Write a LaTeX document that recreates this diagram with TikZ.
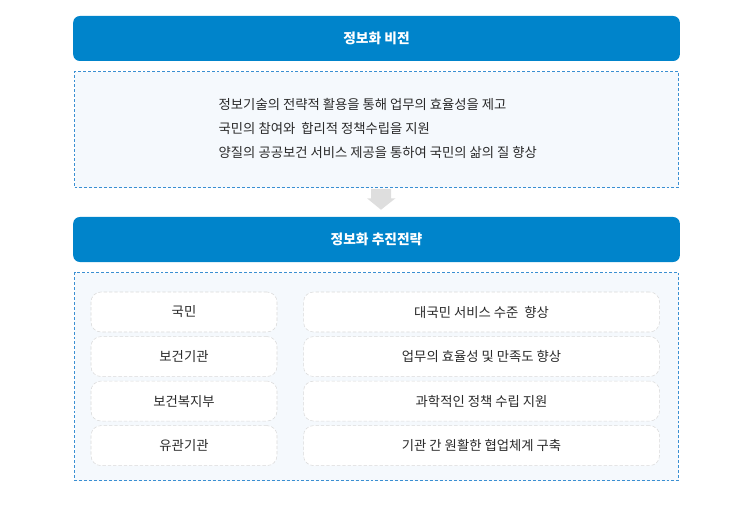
\documentclass[tikz,border=0pt]{standalone}
\usepackage{fontspec}
\setmainfont{Noto Sans CJK KR}
\usepackage{xcolor}
\usetikzlibrary{positioning,calc}
\definecolor{hdblue}{HTML}{0084CB}
\definecolor{dashblue}{HTML}{3A8FD2}
\definecolor{panelbg}{HTML}{F5F9FD}
\definecolor{itemline}{HTML}{DADADA}
\definecolor{arrowgray}{HTML}{DEDEDE}
\definecolor{txtgray}{HTML}{2A2A2A}
\tikzset{
  base/.style={align=center, font=\fontsize{10pt}{12pt}\selectfont, text=txtgray},
  header/.style={base, rectangle, rounded corners=5pt, fill=hdblue, text=white, font=\fontsize{10.3pt}{12pt}\selectfont\bfseries, minimum width=455pt, minimum height=33.75pt, inner sep=0pt},
  panel/.style={rectangle, draw=dashblue, fill=panelbg, dashed, dash pattern=on 2.2pt off 1.5pt, minimum width=453pt, inner sep=0pt},
  item/.style={base, rectangle, rounded corners=7.5pt, draw=itemline, fill=white, dash pattern=on 2.5pt off 1.5pt, minimum height=30pt, inner sep=0pt},
  blockarrow/.style={fill=arrowgray}
}

\begin{document}
\begin{tikzpicture}[x=0.75pt, y=-0.75pt]
  \useasboundingbox (0,0) rectangle (752,520);

  % Top: Vision
  \node[header] (vision) at (376.5,38.5) {정보화 비전};
  \node[panel, minimum height=87pt, below=7.5pt of vision] (visionbox) {};
  \node[base, align=left, anchor=west, font=\fontsize{10pt}{18pt}\selectfont] (visiontxt) at (214,128)
    {정보기술의 전략적 활용을 통해 업무의 효율성을 제고\\
     국민의 참여와 \ 합리적 정책수립을 지원\\
     양질의 공공보건 서비스 제공을 통하여 국민의 삶의 질 향상};

  % Bottom: Strategy
  \node[header] (strategy) at (376.5,239.5) {정보화 추진전략};
  \node[panel, minimum height=156pt, below=7.5pt of strategy] (strategybox) {};

  % Left column
  \node[item, minimum width=139.5pt] (citizen) at (184,312) {국민};
  \node[item, minimum width=139.5pt, below=3pt of citizen] (inst) {보건기관};
  \node[item, minimum width=139.5pt, below=3pt of inst] (ministry) {보건복지부};
  \node[item, minimum width=139.5pt, below=3pt of ministry] (related) {유관기관};

  % Right column
  \node[item, minimum width=267pt, right=19.5pt of citizen] (service) {대국민 서비스 수준 \ 향상};
  \node[item, minimum width=267pt, right=19.5pt of inst] (effic) {업무의 효율성 및 만족도 향상};
  \node[item, minimum width=267pt, right=19.5pt of ministry] (policy) {과학적인 정책 수립 지원};
  \node[item, minimum width=267pt, right=19.5pt of related] (collab) {기관 간 원활한 협업체계 구축};

  % Arrow between panels
  \fill[blockarrow] ($(visionbox.south)+(-5.5,1)$) -- ++(20,0) -- ++(0,9.5) -- ++(4.5,0)
       -- ($(strategy.north)+(4.5,-7)$) -- ($(visionbox.south)+(-9.5,10.5)$) -- ++(4,0) -- cycle;
\end{tikzpicture}
\end{document}
